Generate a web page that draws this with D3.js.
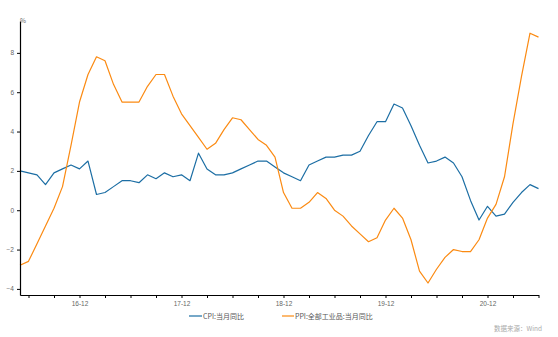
<!DOCTYPE html>
<html><head><meta charset="utf-8">
<script src="https://cdn.jsdelivr.net/npm/d3@7"></script>
<style>
html,body{margin:0;padding:0;background:#fff;}
svg{display:block;font-family:"Noto Sans CJK SC","DejaVu Sans",sans-serif;}
</style></head>
<body><svg id="c" width="558" height="337"></svg>
<script>
const months = [
 "2016-05","2016-06","2016-07","2016-08","2016-09","2016-10","2016-11","2016-12",
 "2017-01","2017-02","2017-03","2017-04","2017-05","2017-06","2017-07","2017-08","2017-09","2017-10","2017-11","2017-12",
 "2018-01","2018-02","2018-03","2018-04","2018-05","2018-06","2018-07","2018-08","2018-09","2018-10","2018-11","2018-12",
 "2019-01","2019-02","2019-03","2019-04","2019-05","2019-06","2019-07","2019-08","2019-09","2019-10","2019-11","2019-12",
 "2020-01","2020-02","2020-03","2020-04","2020-05","2020-06","2020-07","2020-08","2020-09","2020-10","2020-11","2020-12",
 "2021-01","2021-02","2021-03","2021-04","2021-05","2021-06"
];
const cpi = [
 2.0,1.9,1.8,1.3,1.9,2.1,2.3,2.1,
 2.5,0.8,0.9,1.2,1.5,1.5,1.4,1.8,1.6,1.9,1.7,1.8,
 1.5,2.9,2.1,1.8,1.8,1.9,2.1,2.3,2.5,2.5,2.2,1.9,
 1.7,1.5,2.3,2.5,2.7,2.7,2.8,2.8,3.0,3.8,4.5,4.5,
 5.4,5.2,4.3,3.3,2.4,2.5,2.7,2.4,1.7,0.5,-0.5,0.2,
 -0.3,-0.2,0.4,0.9,1.3,1.1
];
const ppi = [
 -2.8,-2.6,-1.7,-0.8,0.1,1.2,3.3,5.5,
 6.9,7.8,7.6,6.4,5.5,5.5,5.5,6.3,6.9,6.9,5.8,4.9,
 4.3,3.7,3.1,3.4,4.1,4.7,4.6,4.1,3.6,3.3,2.7,0.9,
 0.1,0.1,0.4,0.9,0.6,0.0,-0.3,-0.8,-1.2,-1.6,-1.4,-0.5,
 0.1,-0.4,-1.5,-3.1,-3.7,-3.0,-2.4,-2.0,-2.1,-2.1,-1.5,-0.4,
 0.3,1.7,4.4,6.8,9.0,8.8
];
const yTicks = [-4,-2,0,2,4,6,8];
const seriesNames = ["CPI:当月同比","PPI:全部工业品:当月同比"];
const seriesColors = ["#1c6ea4","#fb8a12"];
const sourceText = "数据来源：Wind";
const unitText = "%";

const svg = d3.select("#c");
const x = d3.scalePoint().domain(months).range([20, 538.5]);
const y = d3.scaleLinear().domain([-4.31, 9.62]).range([295, 21]);

// lines
const line = d3.line().x((d,i)=>x(months[i])).y(d=>y(d));
[cpi, ppi].forEach((s,k)=>{
  svg.append("path").datum(s).attr("d", line)
    .attr("fill","none").attr("stroke", seriesColors[k]).attr("stroke-width",1.2)
    .attr("stroke-linejoin","round");
});

// y axis
const ya = svg.append("g").attr("transform","translate(20,0)")
  .call(d3.axisLeft(y).tickValues(yTicks).tickSize(3).tickSizeOuter(0).tickPadding(3));
ya.select(".domain").attr("stroke","#000").attr("stroke-width",1.2);
ya.selectAll(".tick line").attr("stroke","#000");
ya.selectAll("text").attr("font-size","6.5px").attr("fill","#666");
svg.append("text").attr("x",20).attr("y",23).attr("font-size","6.5px").attr("fill","#666").text(unitText);

// x axis
const qt = months.filter(m => ["03","06","09","12"].includes(m.slice(5)));
const xa = svg.append("g").attr("transform","translate(0,295)")
  .call(d3.axisBottom(x).tickValues(qt).tickSize(3).tickSizeOuter(0).tickPadding(3)
    .tickFormat(m => m.slice(5)==="12" ? m.slice(2,4)+"-"+m.slice(5) : ""));
xa.select(".domain").attr("stroke","#000").attr("stroke-width",1.2);
xa.selectAll(".tick line").attr("stroke","#000");
xa.selectAll("text").attr("font-size","6.5px").attr("fill","#666");

// legend
const lg = [[189, 203], [282, 295]];
seriesNames.forEach((n,k)=>{
  svg.append("line").attr("x1",lg[k][0]).attr("x2",lg[k][1]-1).attr("y1",316).attr("y2",316)
    .attr("stroke",seriesColors[k]).attr("stroke-width",1.2);
  svg.append("text").attr("x",lg[k][1]).attr("y",318.5).attr("font-size","7px").attr("fill","#555").text(n);
});
svg.append("text").attr("x",542).attr("y",331).attr("text-anchor","end")
  .attr("font-size","6.5px").attr("fill","#aaa").text(sourceText);
</script></body></html>
